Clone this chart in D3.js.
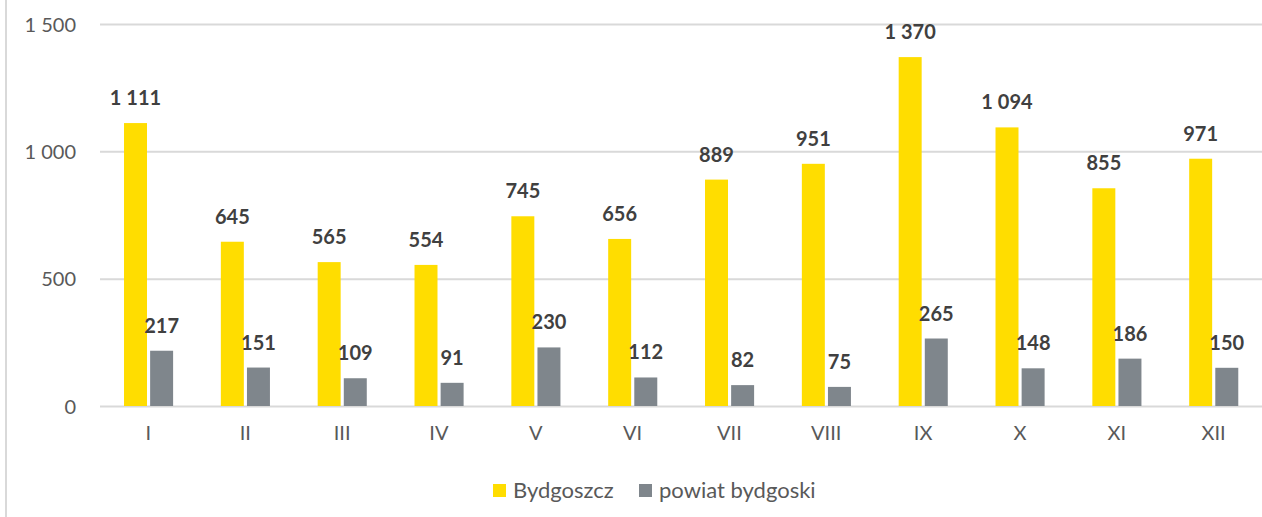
<!DOCTYPE html>
<html><head><meta charset="utf-8">
<script src="https://cdn.jsdelivr.net/npm/d3@7"></script>
<style>
html,body{margin:0;padding:0;background:#fff;}
svg{display:block;font-family:Lato,"Open Sans",sans-serif;}
</style></head>
<body><svg id="chart" width="1262" height="517"></svg>
<script>
const months = ["I","II","III","IV","V","VI","VII","VIII","IX","X","XI","XII"];
const bydgoszcz = [1111,645,565,554,745,656,889,951,1370,1094,855,971];
const powiat = [217,151,109,91,230,112,82,75,265,148,186,150];
const seriesNames = ["Bydgoszcz","powiat bydgoski"];
const seriesColors = ["#FFDD00","#7F868C"];
const yTicks = [0,500,1000,1500];

(function(){
const svg = d3.select("#chart");
const W = 1262, H = 517;
const pLeft = 100, pRight = 1262, pTop = 24, pBottom = 406;

svg.append("line").attr("x1",6).attr("x2",6).attr("y1",0).attr("y2",H)
  .attr("stroke","#d9d9d9").attr("stroke-width",2);

const y = d3.scaleLinear().domain([0,1500]).range([pBottom, pTop]);
const x0 = d3.scaleBand().domain(months).range([pLeft, pRight]).padding(0);
const bw = x0.bandwidth();
const x1 = d3.scaleBand().domain(seriesNames).range([bw*0.248, bw*0.755]).paddingInner(0.12);

const fmt = v => d3.format(",")(v).replace(/,/g, "\u00a0");

const yAxis = d3.axisLeft(y).tickValues(yTicks).tickSize(-(pRight-pLeft)).tickFormat(fmt);
const gy = svg.append("g").attr("transform",`translate(${pLeft},0)`).call(yAxis);
gy.select(".domain").remove();
gy.selectAll(".tick line").attr("stroke","#d9d9d9").attr("stroke-width",2);
gy.selectAll(".tick text").attr("x",-24).attr("dy","0.36em")
  .attr("fill","#595959").attr("font-size",20).attr("font-family","Lato, sans-serif");

const xAxis = d3.axisBottom(x0).tickSize(0).tickPadding(20);
const gx = svg.append("g").attr("transform",`translate(0,${pBottom})`).call(xAxis);
gx.select(".domain").remove();
gx.selectAll(".tick text").attr("fill","#595959").attr("font-size",20).attr("font-family","Lato, sans-serif");

const data = months.map((m,i)=>({m, vals:[bydgoszcz[i], powiat[i]]}));

const groups = svg.append("g").selectAll("g").data(data).join("g")
  .attr("transform", d=>`translate(${x0(d.m)},0)`);

groups.selectAll("rect").data(d=>d.vals.map((v,j)=>({v, s:seriesNames[j], j})))
  .join("rect")
  .attr("x", d=>x1(d.s)).attr("width", x1.bandwidth())
  .attr("y", d=>y(d.v)).attr("height", d=>pBottom - y(d.v))
  .attr("fill", d=>seriesColors[d.j]);

groups.selectAll("text.lbl").data(d=>d.vals.map((v,j)=>({v, s:seriesNames[j], j})))
  .join("text").attr("class","lbl")
  .attr("x", d=>x1(d.s)+x1.bandwidth()/2)
  .attr("y", d=>y(d.v)-18)
  .attr("text-anchor","middle")
  .attr("font-size",20).attr("font-weight","bold").attr("fill","#404040")
  .text(d=>fmt(d.v));

const legend = svg.append("g");
const legItems = [{x:493, name:seriesNames[0], c:seriesColors[0]},{x:639, name:seriesNames[1], c:seriesColors[1]}];
legItems.forEach(it=>{
  legend.append("rect").attr("x",it.x).attr("y",484).attr("width",13).attr("height",13).attr("fill",it.c);
  legend.append("text").attr("x",it.x+20).attr("y",498).attr("font-size",22).attr("fill","#595959").text(it.name);
});
})();
</script></body></html>
